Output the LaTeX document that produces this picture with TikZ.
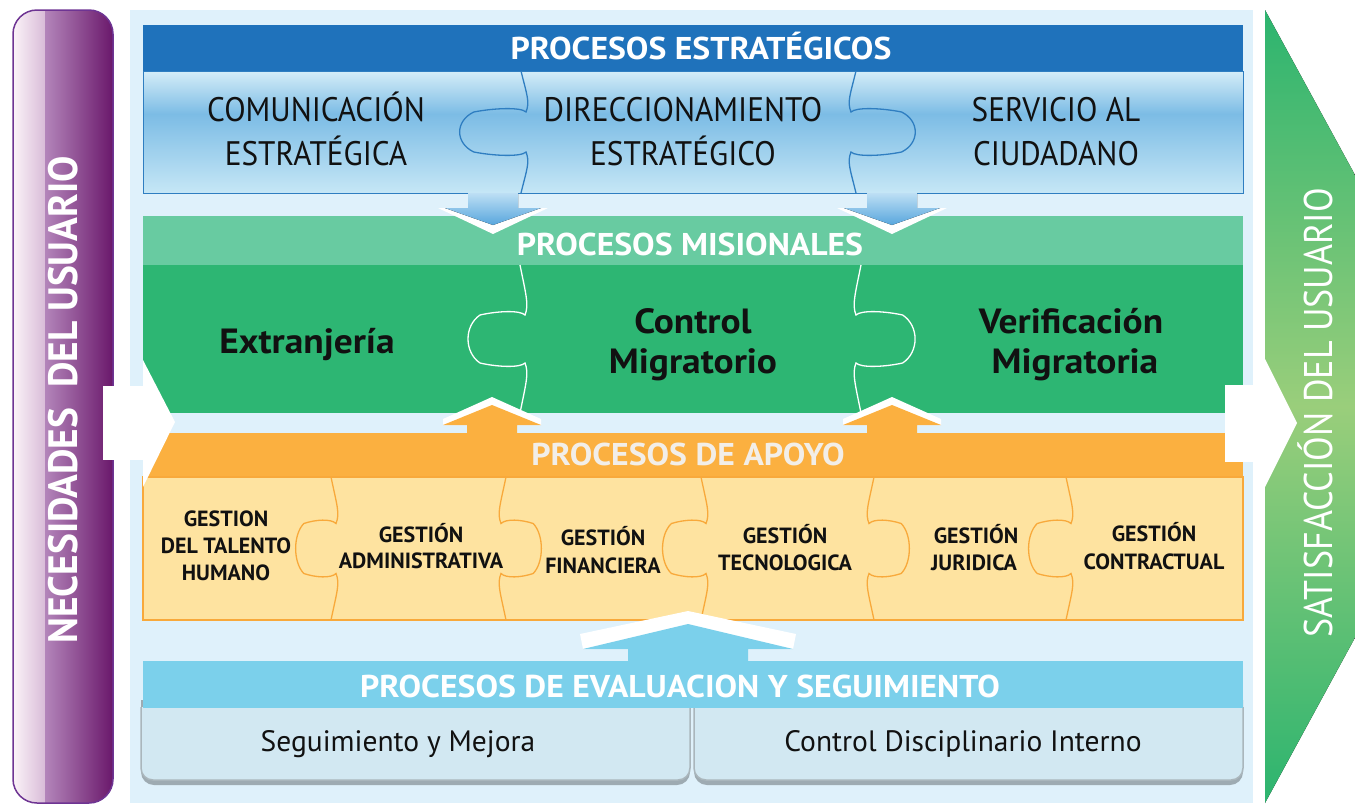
\documentclass[tikz,border=0pt]{standalone}
\usepackage{fontspec}
\setmainfont{PT Sans}
\newfontfamily\cf[FakeStretch=0.92]{PT Sans}
\newfontfamily\wf[FakeStretch=1.07]{PT Sans}
\newfontfamily\necf[FakeStretch=0.96]{PT Sans}
\newfontfamily\satf[FakeStretch=0.9]{PT Sans}
\definecolor{bgblue}{HTML}{DFF1FB}
\definecolor{strathdr}{HTML}{1F72BB}
\definecolor{strattop}{HTML}{D5EDF8}
\definecolor{stratmid}{HTML}{7CBCE5}
\definecolor{stratbot}{HTML}{C6E7F6}
\definecolor{stratline}{HTML}{2F7EC1}
\definecolor{mishdr}{HTML}{68CBA1}
\definecolor{misgreen}{HTML}{2DB673}
\definecolor{apoorange}{HTML}{FBB040}
\definecolor{apofill}{HTML}{FEE3A0}
\definecolor{apoline}{HTML}{F8A93B}
\definecolor{apotext}{HTML}{F2EEE8}
\definecolor{evhdr}{HTML}{7BD0EB}
\definecolor{evfill}{HTML}{D2E8F2}
\definecolor{evline}{HTML}{AAB6BC}
\definecolor{evshadow}{HTML}{9EABB2}
\definecolor{purlight}{HTML}{FBF3F8}
\definecolor{purlight2}{HTML}{D9BCD8}
\definecolor{purmain}{HTML}{B385BA}
\definecolor{purdark}{HTML}{6A186B}
\definecolor{purborder}{HTML}{6E3493}
\definecolor{chevdark}{HTML}{2CB46F}
\definecolor{chevlight}{HTML}{9ACE7B}
\definecolor{arrtop}{HTML}{BDDFF4}
\definecolor{arrbot}{HTML}{58A6DD}
\definecolor{txtblack}{HTML}{111111}

\newcommand\puzzleline[7]{%
 \pgfmathsetmacro\pzh{(#3-#2)/2}%
 \pgfmathsetmacro\pzk{#6/2}%
 \pgfmathsetmacro\pzw{#5}%
 \begin{scope}[shift={(#1,{(#2+#3)/2})},xscale=#4]
 \draw[#7] (0,-\pzh) .. controls (-6,{-\pzh*0.6}) and (-9,{-\pzk-10}) .. (-5,{-\pzk})
   .. controls (0,{-\pzk-5}) and ({\pzw*0.45},{-\pzk-4}) .. ({\pzw*0.8},{-\pzk})
   .. controls ({\pzw*1.12},{-\pzk*0.55}) and ({\pzw*1.12},{\pzk*0.55}) .. ({\pzw*0.8},{\pzk})
   .. controls ({\pzw*0.45},{\pzk+4}) and (0,{\pzk+5}) .. (-5,{\pzk})
   .. controls (-9,{\pzk+10}) and (-6,{\pzh*0.6}) .. (0,\pzh);
 \end{scope}}

\begin{document}
\begin{tikzpicture}[x=1pt,y=-1pt,
  hdr/.style={font=\wf\bfseries\fontsize{31.5}{31.5}\selectfont, text=white, inner sep=0, anchor=base},
  strat/.style={font=\cf\fontsize{34}{34}\selectfont, text=txtblack, inner sep=0, anchor=base},
  mis/.style={font=\wf\bfseries\fontsize{35}{35}\selectfont, text=txtblack, inner sep=0, anchor=base},
  apo/.style={font=\bfseries\fontsize{22}{22}\selectfont, text=txtblack, inner sep=0, anchor=base},
  ev/.style={font=\fontsize{29.5}{29.5}\selectfont, text=txtblack, inner sep=0, anchor=base},
  stratpz/.style={stratline, line width=1.3pt},
  mispz/.style={white, line width=1.3pt},
  apopz/.style={apoline, line width=1.3pt},
  whitearrow/.style={fill=white, draw=none}]
\useasboundingbox (0,0) rectangle (1355,804);

% ---------- left purple bar ----------
\begin{scope}
 \clip[rounded corners=24] (13,10) rectangle (113,803);
 \fill[left color=purlight, right color=purlight2] (13,10) rectangle (45,803);
 \fill[left color=purmain, right color=purdark] (45,10) rectangle (113,803);
\end{scope}
\draw[purborder, line width=1.5pt, rounded corners=24] (13,10) rectangle (113,803);

% ---------- right green chevron ----------
\begin{scope}
 \clip (1255,0) rectangle (1355,804);
 \fill[top color=chevdark, bottom color=chevdark, middle color=chevlight] (1265,10) -- (1481,406) -- (1265,803) -- cycle;
\end{scope}

% ---------- main background ----------
\fill[bgblue] (130,10) rectangle (1253,803);

% ---------- strategic ----------
\fill[strathdr] (143,25) rectangle (1243,71);
\fill[top color=strattop, bottom color=stratmid] (143,71) rectangle (1243,114);
\fill[top color=stratmid, bottom color=stratbot] (143,114) rectangle (1243,193);
\draw[stratline, line width=1pt] (143,71) rectangle (1243,193);
\puzzleline{521}{71}{193}{-1}{59}{40}{stratpz}
\puzzleline{856}{71}{193}{1}{57}{40}{stratpz}

% ---------- misional ----------
\fill[mishdr] (143,216) rectangle (1243,265);
\fill[misgreen] (143,265) rectangle (1243,413);
\puzzleline{520}{265}{413}{-1}{50}{48}{mispz}
\puzzleline{861}{265}{413}{1}{52}{48}{mispz}

% ---------- apoyo ----------
\fill[apoorange] (143,433) rectangle (1243,477);
\fill[apofill] (143,477) rectangle (1243,620);
\draw[apoline, line width=1.4pt] (143,477) rectangle (1243,620);
\puzzleline{331}{477}{620}{-1}{34}{50}{apopz}
\puzzleline{506}{477}{620}{1}{34}{50}{apopz}
\puzzleline{701}{477}{620}{-1}{37}{50}{apopz}
\puzzleline{874}{477}{620}{1}{34}{50}{apopz}
\puzzleline{1066}{477}{620}{-1}{36}{50}{apopz}

% ---------- evaluacion ----------
\fill[evshadow] (141,700) [rounded corners=13] -- (141,785) -- (690,785) [sharp corners] -- (690,700) -- cycle;
\fill[evshadow] (694,700) [rounded corners=13] -- (694,785) -- (1243,785) [sharp corners] -- (1243,700) -- cycle;
\draw[evline, fill=evfill, line width=1.5pt] (141,707) [rounded corners=12] -- (141,780) -- (690,780) [sharp corners] -- (690,707);
\draw[evline, fill=evfill, line width=1.5pt] (694,707) [rounded corners=12] -- (694,780) -- (1243,780) [sharp corners] -- (1243,707);
\fill[evhdr] (143,661) rectangle (1243,708);

% ---------- blue down arrows ----------
\foreach \cx in {493, 892}{
  \fill[white] (\cx-55,208) -- (\cx+55,208) -- (\cx,234) -- cycle;
  \fill[top color=arrtop, bottom color=arrbot] (\cx-25,193) -- (\cx+25,193) -- (\cx+25,208) -- (\cx+48,208) -- (\cx,225) -- (\cx-48,208) -- (\cx-25,208) -- cycle;
}

% ---------- orange up arrows ----------
\foreach \cx in {492, 892}{
  \fill[white] (\cx-49,425) -- (\cx-49,419) -- (\cx,397) -- (\cx+49,419) -- (\cx+49,425) -- cycle;
  \fill[apoorange] (\cx-25,434) -- (\cx-25,425) -- (\cx-49,425) -- (\cx,405) -- (\cx+49,425) -- (\cx+25,425) -- (\cx+25,434) -- cycle;
}

% ---------- light-blue up arrow ----------
\fill[white] (583,649) -- (580,634) -- (688,611) -- (796,634) -- (793,649) -- cycle;
\fill[evhdr] (628,662) -- (628,649) -- (583,649) -- (688,624) -- (793,649) -- (748,649) -- (748,662) -- cycle;

% ---------- white side arrows ----------
\fill[whitearrow] (103,386) rectangle (144,460);
\fill[whitearrow] (143,360) -- (175,422) -- (143,487) -- cycle;
\fill[whitearrow] (1225,385) rectangle (1266,462);
\fill[whitearrow] (1265,359) -- (1297,423) -- (1265,487) -- cycle;

% ---------- texts ----------
\node[font=\necf\bfseries\fontsize{41}{41}\selectfont, text=white, rotate=90, anchor=base, inner sep=0] (nec) at (77,400) {NECESIDADES\ \ DEL USUARIO};
\node[font=\satf\fontsize{40}{40}\selectfont, text=white, rotate=90, anchor=base, inner sep=0] (sat) at (1332,413) {SATISFACCIÓN DEL USUARIO};

\node[hdr] (hE) at (701,59) {PROCESOS ESTRATÉGICOS};
\node[strat] (s1a) at (316,121) {COMUNICACIÓN};
\node[strat] (s1b) at (316,165) {ESTRATÉGICA};
\node[strat] (s2a) at (683,121) {DIRECCIONAMIENTO};
\node[strat] (s2b) at (683,165) {ESTRATÉGICO};
\node[strat] (s3a) at (1056,121) {SERVICIO AL};
\node[strat] (s3b) at (1056,165) {CIUDADANO};

\node[hdr] (hM) at (690,255) {PROCESOS MISIONALES};
\node[mis] (m1) at (307,353) {Extranjería};
\node[mis] (m2a) at (693,333) {Control};
\node[mis] (m2b) at (693,373) {Migratorio};
\node[mis] (m3a) at (1071,333) {Verificación};
\node[mis] (m3b) at (1075,373) {Migratoria};

\node[hdr, text=apotext] (hA) at (688,465) {PROCESOS DE APOYO};
\node[apo] (a1a) at (226,526) {GESTION};
\node[apo] (a1b) at (226,553) {DEL TALENTO};
\node[apo] (a1c) at (226,580) {HUMANO};
\node[apo] (a2a) at (421,542) {GESTIÓN};
\node[apo] (a2b) at (421,568) {ADMINISTRATIVA};
\node[apo] (a3a) at (603,545) {GESTIÓN};
\node[apo] (a3b) at (603,573) {FINANCIERA};
\node[apo] (a4a) at (785,543) {GESTIÓN};
\node[apo] (a4b) at (785,570) {TECNOLOGICA};
\node[apo] (a5a) at (976,543) {GESTIÓN};
\node[apo] (a5b) at (974,570) {JURIDICA};
\node[apo] (a6a) at (1154,541) {GESTIÓN};
\node[apo] (a6b) at (1154,569) {CONTRACTUAL};

\node[hdr] (hV) at (680,697) {PROCESOS DE EVALUACION Y SEGUIMIENTO};
\node[ev] (e1) at (398,751) {Seguimiento y Mejora};
\node[ev] (e2) at (963,751) {Control Disciplinario Interno};
\end{tikzpicture}
\end{document}
